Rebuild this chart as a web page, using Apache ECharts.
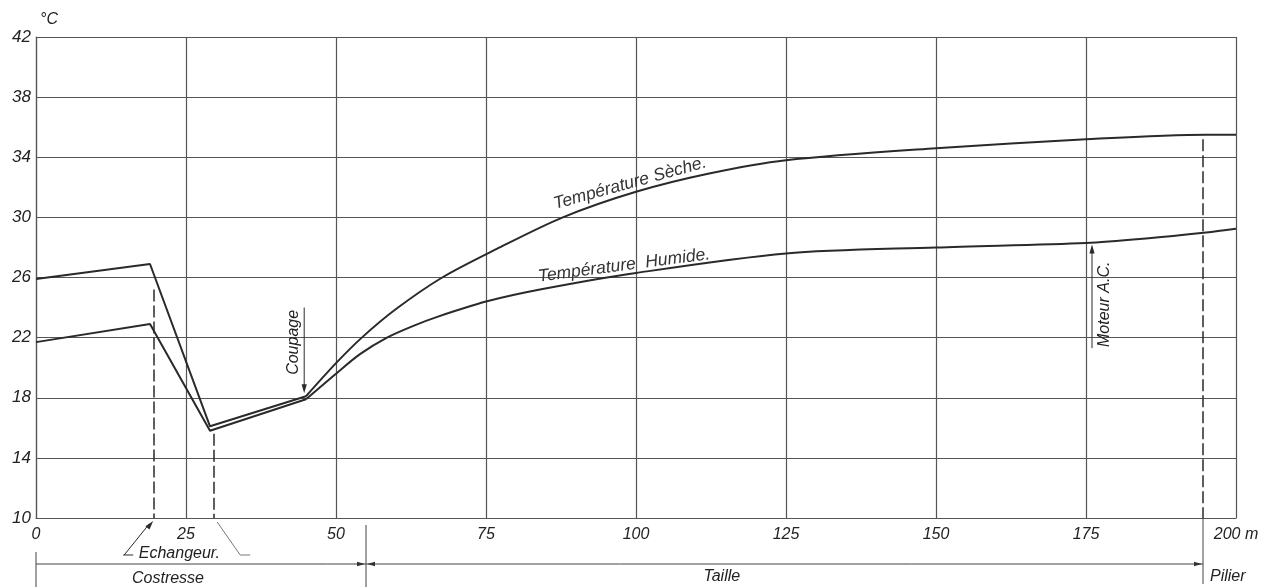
<!DOCTYPE html>
<html><head><meta charset="utf-8">
<script src="https://cdn.jsdelivr.net/npm/echarts@6/dist/echarts.min.js"></script>
<style>html,body{margin:0;padding:0;background:#fff}#main{width:1274px;height:587px}</style>
</head><body><div id="main"></div>
<script>
// ---- data ----
const xTickStep = 25;           // m
const yTickStep = 4;            // °C
const xMin = 0, xMax = 200, yMin = 10, yMax = 42;
// Température Sèche : straight part, then smooth curve after "Coupage"
const drySharp = [[0,25.9],[19,26.9],[29,16.1],[45,18.1]];
const dryCurve = [[45,18.1],[50,20.3],[54.3,22.0],[60,23.9],[67.7,26.0],[76.8,27.9],[87.8,30.0],[100,31.7],[112,32.9],[125,33.8],[150,34.6],[175,35.2],[195,35.5],[200,35.5]];
// Température Humide
const humSharp = [[0,21.7],[19,22.9],[29,15.8],[45,17.9]];
const humCurve = [[45,17.9],[50,19.6],[54,20.9],[58.5,22.0],[63,22.8],[67,23.4],[75,24.4],[84,25.2],[100,26.3],[125,27.6],[150,28.0],[175,28.3],[185,28.6],[195,29.0],[200,29.25]];
// dashed verticals: [x, top y]
const dashedMarks = [[19.7,25.2],[29.7,15.6],[194.5,35.2]];
// zone boundaries (m)
const zoneBounds = [0, 55, 194.5];
const zoneNames = ['Costresse','Taille','Pilier'];

const FONT = '"Liberation Sans","DejaVu Sans",Arial,sans-serif';
const INK = '#2a2a2a';
const GRIDC = '#555';

const chart = echarts.init(document.getElementById('main'));
const lineStyle = {color: INK, width: 2};
const base = {type:'line', showSymbol:false, symbol:'none', lineStyle, silent:true, z:5};

chart.setOption({
  animation:false,
  backgroundColor:'#fff',
  grid:{left:36, right:38, top:37, bottom:69, containLabel:false},
  xAxis:{type:'value', min:xMin, max:xMax, interval:xTickStep,
    axisLine:{show:true, lineStyle:{color:GRIDC, width:1.2}},
    axisTick:{show:false},
    splitLine:{show:true, lineStyle:{color:GRIDC, width:1.2}},
    axisLabel:{margin:9, fontFamily:FONT, fontStyle:'italic', fontSize:16, color:'#222',
      formatter:v => v === xMax ? v + ' m' : String(v)}
  },
  yAxis:{type:'value', min:yMin, max:yMax, interval:yTickStep,
    name:'°C', nameLocation:'end', nameGap:9,
    nameTextStyle:{fontFamily:FONT, fontStyle:'italic', fontSize:16, color:'#222', align:'left', padding:[0,0,0,4]},
    axisLine:{show:true, lineStyle:{color:GRIDC, width:1.2}},
    axisTick:{show:false},
    splitLine:{show:true, lineStyle:{color:GRIDC, width:1.2}},
    axisLabel:{margin:5, fontFamily:FONT, fontStyle:'italic', fontSize:17, color:'#222'}
  },
  series:[
    Object.assign({name:'sec1', data:drySharp, smooth:false,
      markLine:{silent:true, symbol:'none', label:{show:false},
        lineStyle:{color:INK, width:1.5, type:[12,4]},
        data: dashedMarks.map(d => [{coord:[d[0], d[1]]},{coord:[d[0], yMin]}])}}, base),
    Object.assign({name:'sec2', data:dryCurve, smooth:0.3}, base),
    Object.assign({name:'hum1', data:humSharp, smooth:false}, base),
    Object.assign({name:'hum2', data:humCurve, smooth:0.3}, base)
  ]
});

// ---- annotations placed through the chart's own scales ----
const P = (x,y) => chart.convertToPixel({gridIndex:0},[x,y]);
const yAxisPx = P(0, yMin)[1];
function txt(text, x, y, opt) {
  opt = opt || {};
  return {type:'text', x, y, rotation: opt.rot || 0, z:20,
    style:{text, fill: opt.color || '#222', fontFamily:FONT, fontStyle:'italic',
      fontSize: opt.size || 16, align: opt.align || 'center', verticalAlign:'middle',
      textAlign: opt.align || 'center', textVerticalAlign:'middle'}};
}
function seg(x1,y1,x2,y2,color,w) {
  return {type:'line', z:20, shape:{x1,y1,x2,y2}, style:{stroke: color || INK, lineWidth: w || 1}};
}
function head(tx,ty,dx,dy,color,L,W) {
  L = L || 9; W = W || 2.6;
  const n = Math.hypot(dx,dy); dx/=n; dy/=n;
  const bx = tx - dx*L, by = ty - dy*L;
  return {type:'polygon', z:21, shape:{points:[[tx,ty],[bx - dy*W, by + dx*W],[bx + dy*W, by - dx*W]]},
    style:{fill: color || INK}};
}
const g = [];
// curve labels
{
  const p = P(99, 31.6);
  g.push(txt('Température Sèche.', p[0], p[1]-10, {rot: 15.5*Math.PI/180, size:17.5, color:'#333'}));
  const q = P(98, 26.2);
  g.push(txt('Température  Humide.', q[0], q[1]-9, {rot: 7.5*Math.PI/180, size:17.5, color:'#333'}));
}
// Coupage
{
  const a = P(44.7, 24.0), b = P(44.7, 18.3);
  g.push(seg(a[0], a[1], b[0], b[1]-6, INK, 1));
  g.push(head(b[0], b[1], 0, 1));
  g.push(txt('Coupage', a[0]-11, (a[1]+b[1])/2 - 8, {rot: Math.PI/2, size:16}));
}
// Moteur A.C.
{
  const a = P(176, 21.3), b = P(176, 28.2);
  g.push(seg(a[0], a[1], b[0], b[1]+6, INK, 1));
  g.push(head(b[0], b[1], 0, -1));
  g.push(txt('Moteur A.C.', a[0]+13, (a[1]+b[1])/2 + 8, {rot: Math.PI/2, size:16}));
}
// Echangeur.
{
  const l = P(dashedMarks[0][0], yMin), r = P(dashedMarks[1][0], yMin);
  const ty = yAxisPx + 36;
  g.push(txt('Echangeur.', P(23.9, yMin)[0], ty, {size:16}));
  g.push(seg(l[0]-30, ty+1, l[0]-5, l[1]+6, INK, 1));
  g.push(head(l[0]-1, l[1]+3, 1, -1.2));
  g.push(seg(l[0]-31, ty+1, l[0]-21, ty+1, INK, 1));
  g.push(seg(r[0]+3, r[1]+4, r[0]+26, ty+1, '#777', 1));
  g.push(seg(r[0]+26, ty+1, r[0]+36, ty+1, '#777', 1));
}
// zones row
{
  const rowY = yAxisPx + 46;
  const x0 = P(zoneBounds[0], yMin)[0], x1 = P(zoneBounds[1], yMin)[0], x2 = P(zoneBounds[2], yMin)[0];
  g.push(seg(x0, rowY, x2, rowY, '#444', 1));
  g.push(seg(x0, yAxisPx + 34, x0, 587, '#444', 1));
  g.push(seg(x1, yAxisPx + 7, x1, 587, '#444', 1));
  g.push(seg(x2, yAxisPx, x2, 584, '#444', 1));
  g.push(head(x1-1, rowY, 1, 0, '#333', 8, 2.2));
  g.push(head(x1+1, rowY, -1, 0, '#333', 8, 2.2));
  g.push(head(x2-1, rowY, 1, 0, '#333', 8, 2.2));
  g.push(txt(zoneNames[0], P(22, yMin)[0], rowY + 15, {size:16}));
  g.push(txt(zoneNames[1], P(114.3, yMin)[0], rowY + 13, {size:16}));
  g.push(txt(zoneNames[2], x2 + 7, rowY + 13, {size:16, align:'left'}));
}
chart.setOption({graphic:{elements:g}});
</script>
</body></html>
